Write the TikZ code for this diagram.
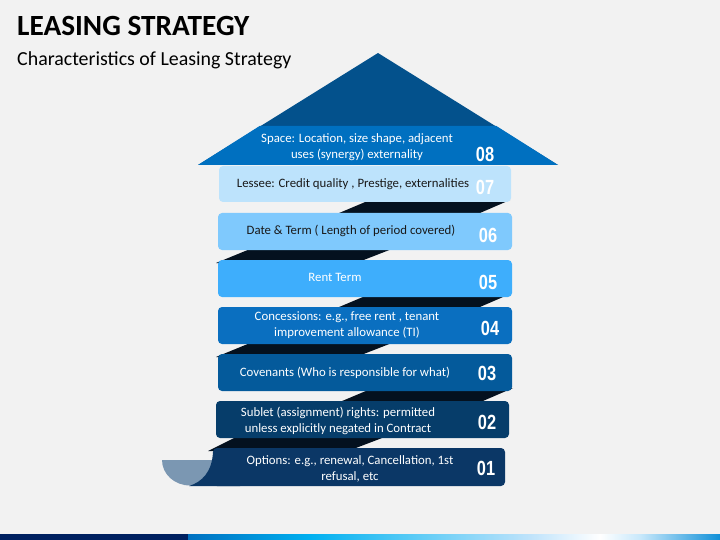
\documentclass[tikz,border=0pt]{standalone}
\usepackage{fontspec}
\usepackage{graphicx}
\setmainfont{Carlito}
\newfontfamily\numfam{Liberation Sans}
\definecolor{bg}{HTML}{F2F2F2}
\definecolor{roofdark}{HTML}{03518C}
\definecolor{roofband}{HTML}{0070C0}
\definecolor{cseven}{HTML}{BDE3FC}
\definecolor{csix}{HTML}{7FC9FD}
\definecolor{cfive}{HTML}{3EAEFC}
\definecolor{cfour}{HTML}{0A6FC0}
\definecolor{cthree}{HTML}{045A9B}
\definecolor{ctwo}{HTML}{063D6A}
\definecolor{cone}{HTML}{0B3766}
\definecolor{fold}{HTML}{04111F}
\definecolor{curl}{HTML}{7B97B2}
\definecolor{navy}{HTML}{002060}
\newcommand\numtxt[1]{\scalebox{0.8}[1]{\numfam\bfseries #1}}
\tikzset{
  box/.style={rounded corners=4pt, inner sep=0pt, minimum width=294pt, minimum height=37pt},
  label/.style={font=\fontsize{12.8}{16}\selectfont, align=center, text=white, inner sep=0pt},
  darklabel/.style={label, text=black!90},
  numlabel/.style={font=\fontsize{20.5}{20}\selectfont, text=white, inner sep=0pt},
  foldshape/.style={fill=fold},
}
\begin{document}
\begin{tikzpicture}[x=1pt,y=-1pt]
\useasboundingbox (0,0) rectangle (720,540);
\fill[bg] (0,0) rectangle (720,540);
% title
\node[anchor=base west, inner sep=0pt, font=\fontsize{29.3}{30}\selectfont\bfseries] (title) at (17,36) {LEASING STRATEGY};
\node[anchor=base west, inner sep=0pt, font=\fontsize{19.9}{20}\selectfont] (subtitle) at (17,66) {Characteristics of Leasing Strategy};
% roof
\fill[roofdark] (378,53) -- (558,165) -- (198,165) -- cycle;
\fill[roofband] (259.6,126) -- (496.4,126) -- (558,165) -- (198,165) -- cycle;
% folds (right)
\fill[foldshape] (370,200) -- (510,200) -- (473,216) -- (332,216) -- cycle;
\fill[foldshape] (370,294) -- (510,294) -- (473,310) -- (332,310) -- cycle;
\fill[foldshape] (373,388) -- (513,388) -- (476,404) -- (335,404) -- cycle;
% folds (left)
\fill[foldshape] (255,247) -- (397,247) -- (356,263) -- (216,263) -- cycle;
\fill[foldshape] (255,341) -- (397,341) -- (356,357) -- (216,357) -- cycle;
\fill[foldshape] (240,435) -- (390,435) -- (348,451) -- (208,451) -- cycle;
% curl at bottom left
\fill[curl] (162,460) arc[start angle=180, end angle=0, x radius=28, y radius=25.5] -- cycle;
% boxes
\node[box, fill=cseven, minimum width=292pt, minimum height=36pt] (b7) at (365,184) {};
\node[box, fill=csix] (b6) at (365,231.5) {};
\node[box, fill=cfive] (b5) at (365,278.5) {};
\node[box, fill=cfour] (b4) at (365,325.5) {};
\node[box, fill=cthree] (b3) at (365,372.5) {};
\node[box, fill=ctwo, minimum width=293pt] (b2) at (362.5,419.5) {};
\node[box, fill=cone, minimum width=292pt, minimum height=38pt] (b1) at (359,467) {};
\fill[cone] (218,449) -- (213,452) .. controls (212,472) and (202,482) .. (189,486) -- (240,486) -- (240,449) -- cycle;
% texts
\node[label] (t8) at (357,147) {Space: Location, size shape, adjacent\\uses (synergy) externality};
\node[darklabel] (t7) at (353,184) {Lessee: Credit quality , Prestige, externalities};
\node[darklabel] (t6) at (351,231) {Date \& Term ( Length of period covered)};
\node[label] (t5) at (335,277) {Rent Term};
\node[label] (t4) at (347,325) {Concessions: e.g., free rent , tenant\\improvement allowance (TI)};
\node[label] (t3) at (345,373) {Covenants (Who is responsible for what)};
\node[label] (t2) at (338,421) {Sublet (assignment) rights: permitted\\unless explicitly negated in Contract};
\node[label] (t1) at (350,468.5) {Options: e.g., renewal, Cancellation, 1st\\refusal, etc};
% numbers
\node[numlabel] (n8) at (485,154) {\numtxt{08}};
\node[numlabel] (n7) at (485,187) {\numtxt{07}};
\node[numlabel] (n6) at (488,235) {\numtxt{06}};
\node[numlabel] (n5) at (488,282) {\numtxt{05}};
\node[numlabel] (n4) at (490,328) {\numtxt{04}};
\node[numlabel] (n3) at (487,373) {\numtxt{03}};
\node[numlabel] (n2) at (487,422) {\numtxt{02}};
\node[numlabel] (n1) at (486,468) {\numtxt{01}};
% bottom bar
\fill[navy] (0,534) rectangle (188,540);
\shade[left color=roofband, right color={rgb,255:red,0;green,176;blue,240}] (188,534) rectangle (310,540);
\shade[left color={rgb,255:red,0;green,176;blue,240}, right color={rgb,255:red,79;green,200;blue,245}] (310,534) rectangle (400,540);
\shade[left color={rgb,255:red,79;green,200;blue,245}, right color={rgb,255:red,191;green,227;blue,251}] (400,534) rectangle (530,540);
\shade[left color={rgb,255:red,191;green,227;blue,251}, right color=white] (530,534) rectangle (600,540);
\shade[left color=white, right color={rgb,255:red,200;green,232;blue,251}] (600,534) rectangle (640,540);
\shade[left color={rgb,255:red,200;green,232;blue,251}, right color={rgb,255:red,16;green,144;blue,216}] (640,534) rectangle (720,540);
\end{tikzpicture}
\end{document}
